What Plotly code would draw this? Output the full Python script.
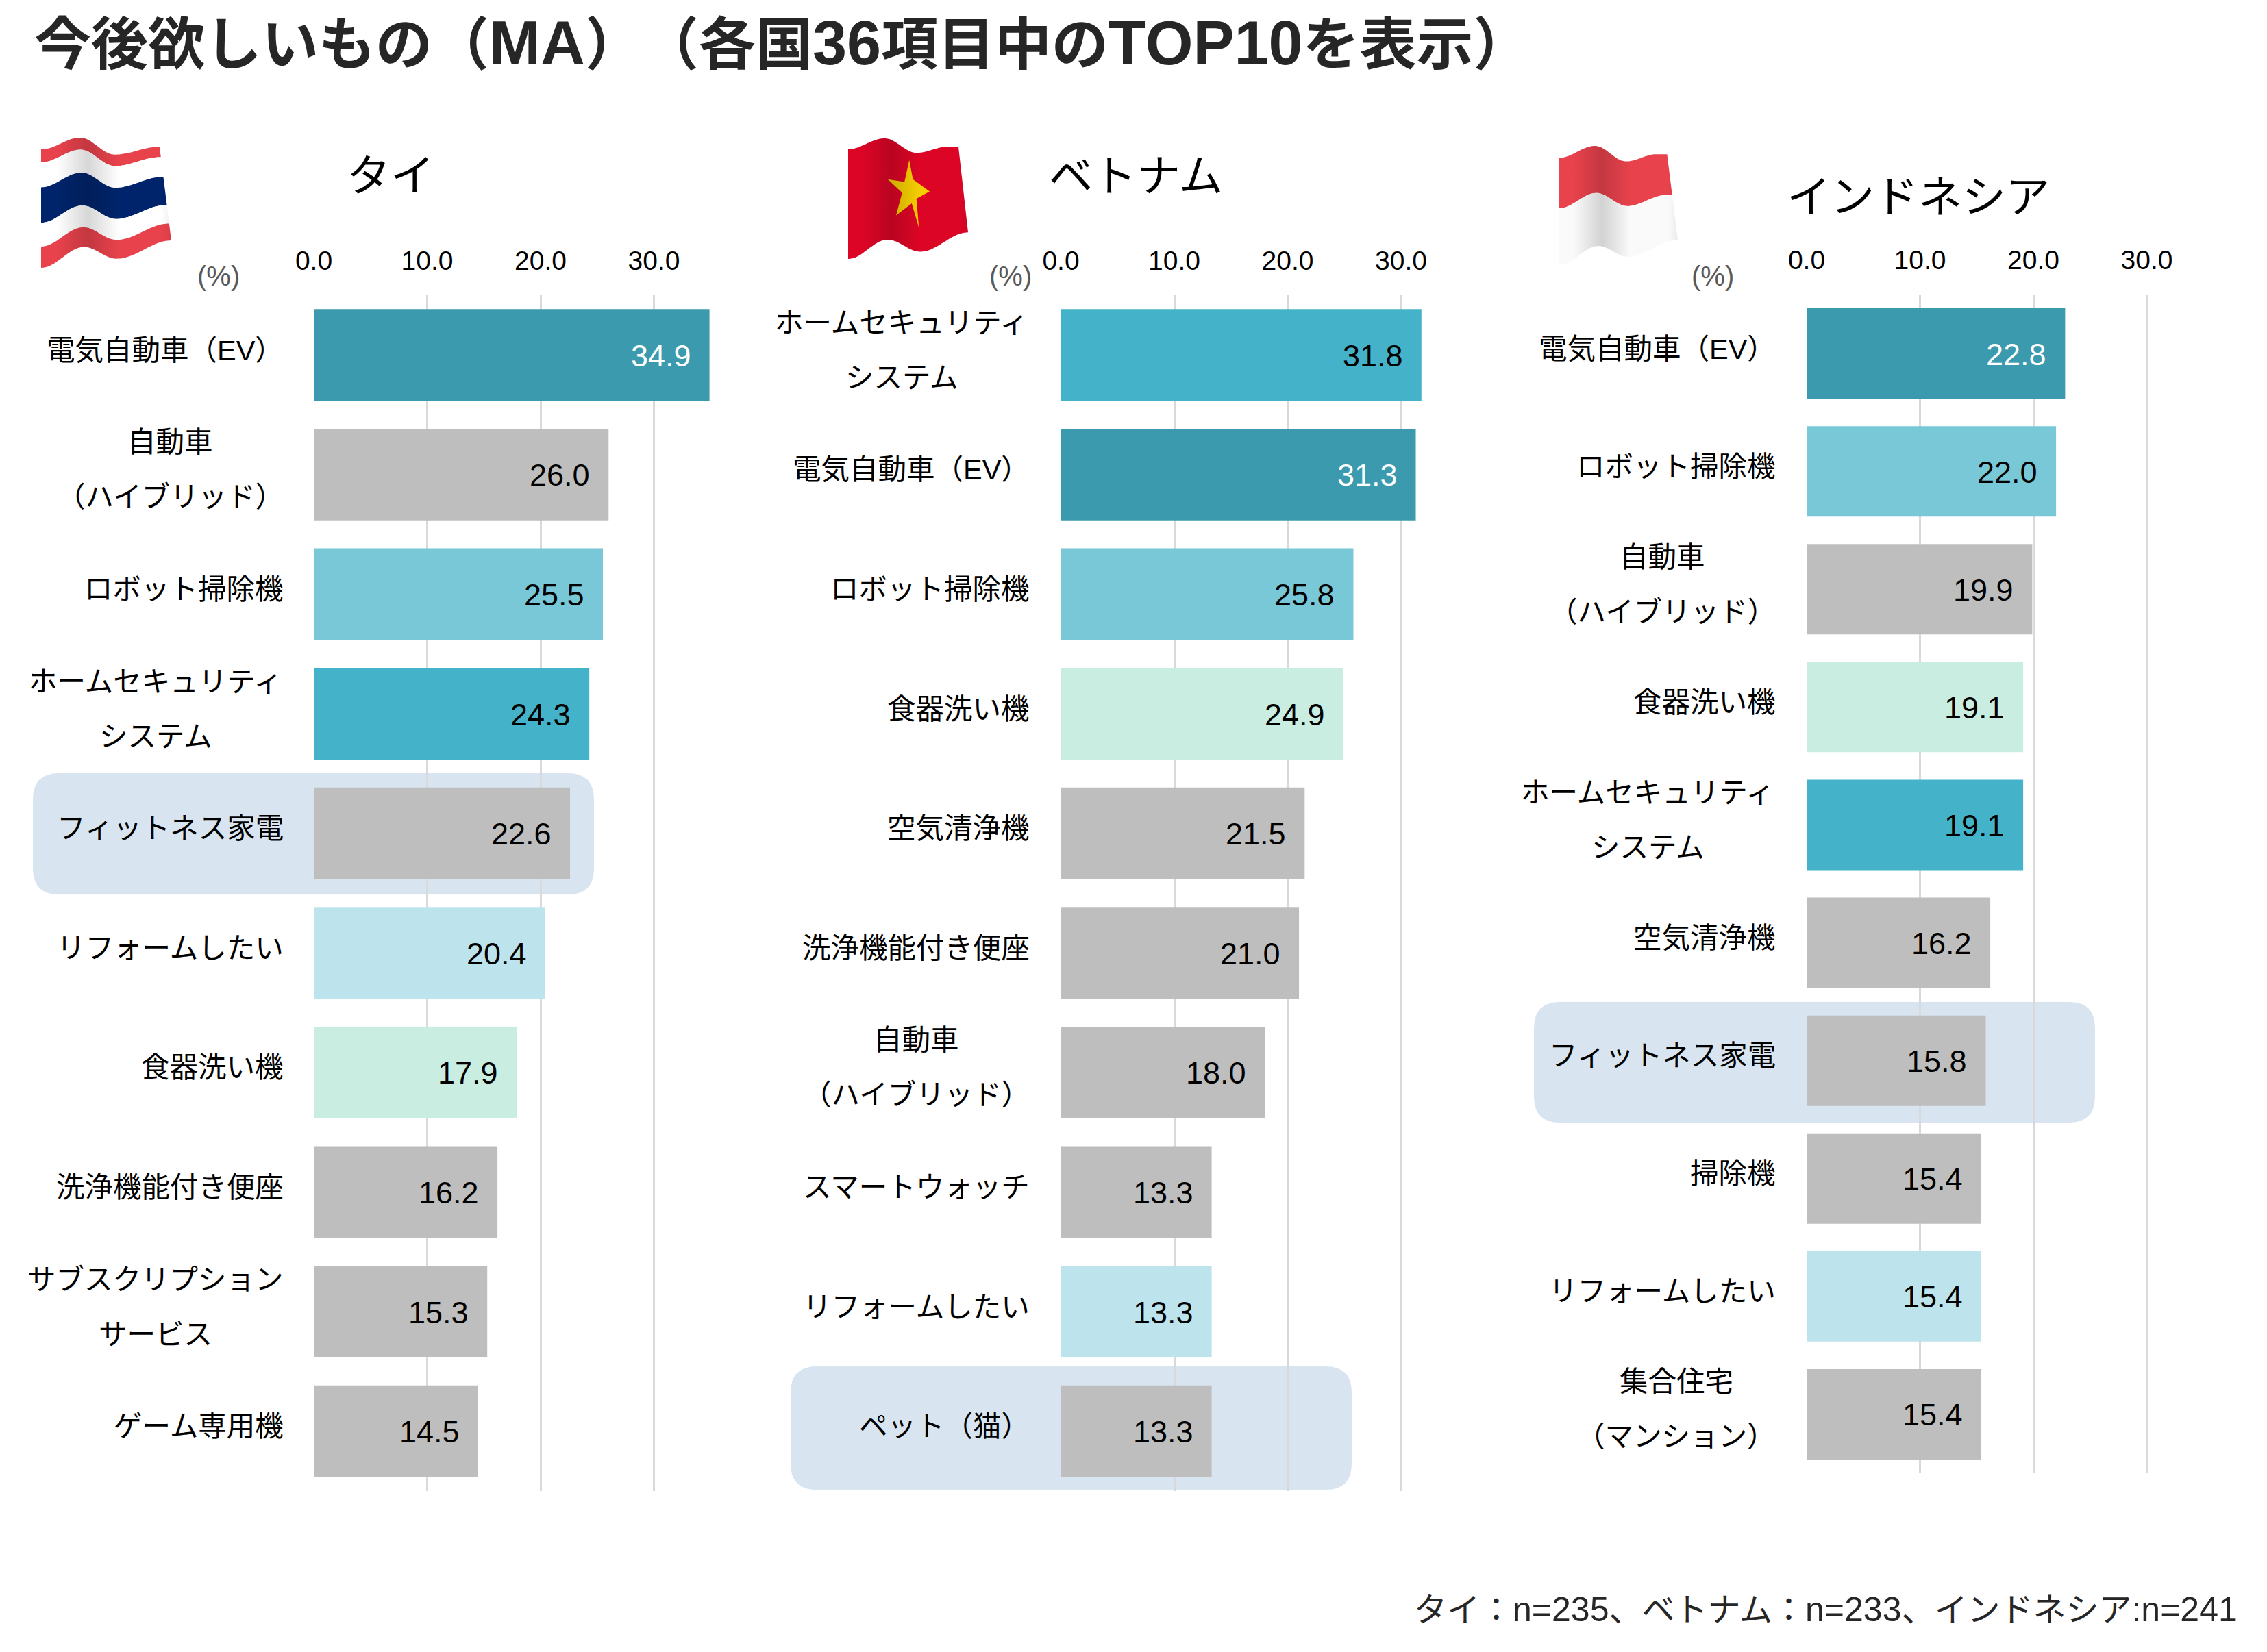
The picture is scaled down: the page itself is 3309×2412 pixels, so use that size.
import base64
import numpy as np
import plotly.graph_objects as go

W, H = 3309, 2412

cats_th = ["電気自動車（EV）", "自動車\n（ハイブリッド）", "ロボット掃除機", "ホームセキュリティ\nシステム", "フィットネス家電",
           "リフォームしたい", "食器洗い機", "洗浄機能付き便座", "サブスクリプション\nサービス", "ゲーム専用機"]
vals_th = [34.9, 26.0, 25.5, 24.3, 22.6, 20.4, 17.9, 16.2, 15.3, 14.5]
cats_vn = ["ホームセキュリティ\nシステム", "電気自動車（EV）", "ロボット掃除機", "食器洗い機", "空気清浄機",
           "洗浄機能付き便座", "自動車\n（ハイブリッド）", "スマートウォッチ", "リフォームしたい", "ペット（猫）"]
vals_vn = [31.8, 31.3, 25.8, 24.9, 21.5, 21.0, 18.0, 13.3, 13.3, 13.3]
cats_id = ["電気自動車（EV）", "ロボット掃除機", "自動車\n（ハイブリッド）", "食器洗い機", "ホームセキュリティ\nシステム",
           "空気清浄機", "フィットネス家電", "掃除機", "リフォームしたい", "集合住宅\n（マンション）"]
vals_id = [22.8, 22.0, 19.9, 19.1, 19.1, 16.2, 15.8, 15.4, 15.4, 15.4]
tick_vals = [0, 10, 20, 30]
tick_text = ["0.0", "10.0", "20.0", "30.0"]

GREY = "#BEBEBE"
CAT_COLORS = {"電気自動車（EV）": "#3C9AAE", "ホームセキュリティ\nシステム": "#44B3C9", "ロボット掃除機": "#78C8D7",
              "食器洗い機": "#C9EDE1", "リフォームしたい": "#BDE3EC"}
JP = "'Liberation Sans', 'Noto Sans CJK JP'"
LAT = "'Liberation Sans'"

panels = [
    dict(name="タイ", cats=cats_th, vals=vals_th, x0=458, top=431, bot=2177, right=416, title=(570, 257), pct=(319, 403), hl=(48, 867, 1129, 1306)),
    dict(name="ベトナム", cats=cats_vn, vals=vals_vn, x0=1548.5, top=431, bot=2177, right=1505, title=(1658, 257), pct=(1475, 403), hl=(1154, 1973, 1995, 2175)),
    dict(name="インドネシア", cats=cats_id, vals=vals_id, x0=2637, top=430, bot=2151, right=2594, title=(2800, 288), pct=(2500, 403), hl=(2239, 3058, 1463, 1639)),
]
UNIT = 16.55


def interp(keys, u):
    xs, ys = zip(*keys)
    i = np.clip(np.searchsorted(xs, u) - 1, 0, len(xs) - 2)
    t = (u - xs[i]) / (xs[i + 1] - xs[i])
    t = (1 - np.cos(np.pi * t)) / 2
    return ys[i] + (ys[i + 1] - ys[i]) * t


def flag_svg(w, h, top_keys, bot_keys, xl_bot, xr_top, xr_bot, stripes, star=None):
    us = np.linspace(0, 1, 60)
    def pt(u, v):
        xt = u * xr_top
        xb = xl_bot + u * (xr_bot - xl_bot)
        yt = interp(top_keys, u)
        yb = interp(bot_keys, u)
        return (xt + (xb - xt) * v) * w, (yt + (yb - yt) * v) * h
    def band(v0, v1):
        p = [pt(u, v0) for u in us] + [pt(u, v1) for u in us[::-1]]
        return "M" + " L".join(f"{a:.1f},{b:.1f}" for a, b in p) + "Z"
    body = "".join(f'<path d="{band(v0, v1)}" fill="{c}"/>' for v0, v1, c in stripes)
    if star:
        body += '<polygon points="' + " ".join(f"{a * w:.1f},{b * h:.1f}" for a, b in star) + '" fill="#F5CE00"/>'
    body += f'<path d="{band(0, 1)}" fill="url(#s)"/>'
    svg = (f'<svg xmlns="http://www.w3.org/2000/svg" width="{w}" height="{h}" viewBox="0 0 {w} {h}">'
           '<defs><linearGradient id="s" x1="0" x2="1" y1="0" y2="0">'
           '<stop offset="0" stop-color="#000" stop-opacity="0.0"/>'
           '<stop offset="0.12" stop-color="#000" stop-opacity="0"/>'
           '<stop offset="0.36" stop-color="#000" stop-opacity="0.16"/>'
           '<stop offset="0.6" stop-color="#000" stop-opacity="0.0"/>'
           '<stop offset="0.92" stop-color="#000" stop-opacity="0.0"/>'
           '<stop offset="1" stop-color="#000" stop-opacity="0.06"/>'
           f'</linearGradient></defs>{body}</svg>')
    return "data:image/svg+xml;base64," + base64.b64encode(svg.encode()).decode()


wave_top = [(0, 0.09), (0.33, 0.0), (0.62, 0.13), (1, 0.07)]
flags = [
    (60, 201, 190, 190, flag_svg(190, 190, wave_top, [(0, 1.0), (0.33, 0.84), (0.58, 0.93), (1, 0.79)], 0, 0.91, 1.0,
        [(0, 0.11, "#E8424C"), (0.11, 0.32, "#FFFFFF"), (0.32, 0.62, "#00246B"), (0.62, 0.82, "#FFFFFF"), (0.82, 1, "#E8424C")])),
    (1238, 202, 175, 176, flag_svg(175, 176, [(0, 0.09), (0.33, 0.0), (0.62, 0.12), (0.9, 0.07), (1, 0.07)],
        [(0, 1.0), (0.33, 0.84), (0.6, 0.94), (1, 0.78)], 0, 0.92, 1.0,
        [(0, 1, "#DC0526")],
        star=[(0.51, 0.18), (0.54, 0.34), (0.68, 0.44), (0.57, 0.50), (0.59, 0.74), (0.53, 0.54), (0.40, 0.64), (0.45, 0.45), (0.33, 0.34), (0.47, 0.36)])),
    (2276, 213, 173, 174, flag_svg(173, 174, [(0, 0.10), (0.33, 0.0), (0.62, 0.13), (0.9, 0.07), (1, 0.07)],
        [(0, 1.0), (0.33, 0.84), (0.58, 0.93), (1, 0.79)], 0, 0.91, 1.0,
        [(0, 0.47, "#E8424C"), (0.47, 1, "#FAFAFA")])),
]

fig = go.Figure()
annotations, shapes, images = [], [], []


def text_at(x, y, s, size, color="#000000", font=JP, anchor="center"):
    annotations.append(dict(x=x / W, y=1 - y / H, xref="paper", yref="paper", text=s, showarrow=False,
                            xanchor=anchor, yanchor="middle", font=dict(family=font, size=size, color=color)))


def big(s, size):
    return f'<span style="font-size:{size}px">{s}</span>'


for i, p in enumerate(panels):
    n = i + 1
    suffix = "" if n == 1 else str(n)
    span = 35.0
    colors = [CAT_COLORS.get(c, GREY) for c in p["cats"]]
    fig.add_trace(go.Bar(x=p["vals"], y=list(range(len(p["vals"]))), orientation="h", marker=dict(color=colors, line_width=0),
                         width=0.767, xaxis=f"x{suffix}", yaxis=f"y{suffix}", showlegend=False, hoverinfo="skip"))
    fig.update_layout({
        f"xaxis{suffix}": dict(domain=[p["x0"] / W, (p["x0"] + span * UNIT) / W], range=[0, span], side="top", anchor=f"y{suffix}",
                               tickvals=tick_vals, ticktext=tick_text, showgrid=True, gridcolor="#D9D9D9", gridwidth=3,
                               zeroline=False, showline=False, ticks="", ticklabelstandoff=28,
                               tickfont=dict(family=LAT, size=39, color="#000000")),
        f"yaxis{suffix}": dict(domain=[1 - p["bot"] / H, 1 - p["top"] / H], range=[9.5, -0.5], anchor=f"x{suffix}",
                               showgrid=False, zeroline=False, showline=False, showticklabels=False, ticks=""),
    })
    step = (p["bot"] - p["top"]) / 10
    xref, yref = f"x{suffix}", f"y{suffix}"
    for j, (c, v) in enumerate(zip(p["cats"], p["vals"])):
        annotations.append(dict(x=v, y=j, xref=xref, yref=yref, text=f"{v:.1f}", showarrow=False, xanchor="right", yanchor="middle",
                                xshift=-25, yshift=-1,
                                font=dict(family=LAT, size=45, color="#FFFFFF" if c == "電気自動車（EV）" else "#000000")))
        lines = c.split("\n")
        cy = p["top"] + step * (j + 0.5)
        if len(lines) == 1:
            text_at(p["right"], cy - 7, c, 41.5, anchor="right")
        else:
            width = max(len(s) for s in lines) * 41.5
            cx = p["right"] - 2 - width / 2
            text_at(cx, cy - 47, lines[0], 41.5)
            text_at(cx, cy + 33, lines[1], 41.5)
    text_at(p["title"][0], p["title"][1], p["name"], 64)
    text_at(p["pct"][0], p["pct"][1], "(%)", 40, color="#595959", font=LAT)
    x0, x1, y0, y1 = p["hl"]
    r = 38
    fx, fy = (lambda a: a / W), (lambda b: 1 - b / H)
    path = (f"M{fx(x0 + r)},{fy(y0)} L{fx(x1 - r)},{fy(y0)} Q{fx(x1)},{fy(y0)} {fx(x1)},{fy(y0 + r)} "
            f"L{fx(x1)},{fy(y1 - r)} Q{fx(x1)},{fy(y1)} {fx(x1 - r)},{fy(y1)} "
            f"L{fx(x0 + r)},{fy(y1)} Q{fx(x0)},{fy(y1)} {fx(x0)},{fy(y1 - r)} "
            f"L{fx(x0)},{fy(y0 + r)} Q{fx(x0)},{fy(y0)} {fx(x0 + r)},{fy(y0)} Z")
    shapes.append(dict(type="path", path=path, xref="paper", yref="paper", fillcolor="#D8E5F0", line_width=0, layer="below"))

for x, y, w, h, src in flags:
    images.append(dict(source=src, xref="paper", yref="paper", x=x / W, y=1 - y / H, sizex=w / W, sizey=h / H,
                       xanchor="left", yanchor="top", sizing="stretch", layer="above"))

TL = 90
title = f"<b>今後欲しいもの（{big('MA', TL)}）\u200b（各国{big('36', TL)}項目中の{big('TOP10', TL)}を表示）</b>"
text_at(48, 63, title, 83, color="#262626", anchor="left")
FL = 50
footer = f"タイ：{big('n=235', FL)}、ベトナム：{big('n=233', FL)}、インドネシア{big(':n=241', FL)}"
text_at(3268, 2350, footer, 48, color="#262626", anchor="right")

fig.update_layout(width=W, height=H, margin=dict(l=0, r=0, t=0, b=0, autoexpand=False), paper_bgcolor="#FFFFFF", plot_bgcolor="rgba(0,0,0,0)",
                  annotations=annotations, shapes=shapes, images=images, barmode="overlay", showlegend=False,
                  font=dict(family=JP))
fig.write_html("out.html", config=dict(displayModeBar=False), post_script="document.body.style.margin='0';")
